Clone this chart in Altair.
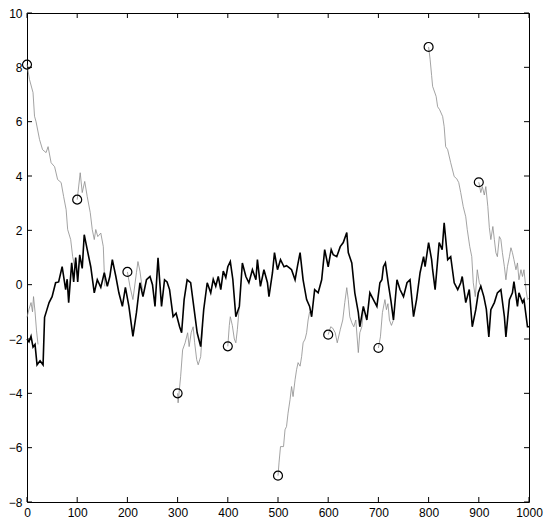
import altair as alt
import pandas as pd

# ---- black series ----
black_x = [0, 4, 8, 12, 16, 20, 26, 32, 35, 40, 44, 50, 57, 63, 70, 77, 80, 83, 89, 93,
           97, 101, 105, 110, 114, 120, 127, 134, 140, 147, 154, 160, 165, 170, 177, 183, 190, 196, 203, 211,
           218, 225, 231, 238, 245, 250, 255, 261, 268, 274, 279, 284, 291, 297, 304, 308, 313, 319, 326, 333,
           339, 346, 352, 359, 366, 371, 376, 381, 386, 391, 396, 400, 405, 410, 416, 423, 429, 436, 442, 449,
           456, 459, 465, 472, 479, 482, 489, 493, 499, 505, 512, 517, 524, 527, 534, 539, 544, 550, 557, 563,
           567, 573, 580, 587, 593, 600, 606, 610, 617, 624, 630, 637, 640, 647, 653, 660, 663, 670, 677, 683,
           690, 697, 703, 707, 710, 714, 720, 725, 730, 737, 743, 750, 757, 763, 770, 776, 783, 790, 793, 800,
           806, 808, 813, 821, 827, 831, 838, 844, 851, 858, 864, 867, 874, 881, 887, 894, 899, 904, 910, 915,
           920, 924, 931, 937, 944, 951, 954, 961, 967, 970, 977, 980, 987, 990, 997, 1000]
black_y = [-2.0, -2.1, -1.9, -2.3, -2.2, -2.95, -2.8, -2.95, -1.2, -0.9, -0.66, -0.44, 0.07, 0.1, 0.66, -0.18, 0.2, -0.66, 0.8, 0.1,
           1.0, 0.1, 1.1, 0.6, 1.84, 1.29, 0.66, -0.3, 0.18, -0.1, 0.44, -0.06, 0.3, 0.92, 0.3, -0.3, -0.8, -0.1, -0.8, -1.9,
           -1.03, 0.07, -0.44, 0.18, 0.3, 0.0, -0.8, 0.99, -0.8, 0.18, 0.1, -0.18, -1.18, -1.05, -1.55, -1.77, -0.55, 0.18, 0.07, -0.92,
           -1.77, -2.28, -0.92, 0.07, -0.3, 0.2, -0.06, 0.3, -0.18, 0.5, 0.26, 0.66, 0.85, 0.2, -1.18, -0.8, 0.8, 0.3, 0.07, 0.55,
           0.18, 0.92, -0.06, 0.55, 0.07, -0.44, 0.44, 1.18, 0.55, 0.92, 0.66, 0.7, 0.6, 0.55, 0.18, 0.7, 1.18, 0.18, -0.55, -0.8,
           -1.18, -0.18, -0.3, 0.18, 1.29, 0.66, 1.29, 1.1, 1.03, 1.4, 1.55, 1.92, 1.18, 0.8, -0.3, -1.03, -1.55, -0.8, -1.3, -0.3,
           -0.55, -0.8, 0.07, 0.18, 0.66, 0.8, 0.0, -0.6, -1.3, 0.18, -0.18, -0.44, 0.07, 0.18, -1.18, -0.55, 0.44, 1.03, 0.66, 1.55,
           0.92, 0.55, -0.18, 1.55, 1.29, 2.28, 0.92, 1.03, 0.07, -0.18, 0.07, 0.3, -0.66, -0.18, -1.55, -0.92, -0.3, -0.06, -0.44, -0.9,
           -1.92, -0.92, -0.66, -0.3, -0.18, -1.18, -1.92, -0.55, -0.3, 0.11, -0.8, -0.3, -0.66, -0.55, -1.55, -1.55]

# ---- gray segments ----
gz_x = [0, 4, 8, 11, 13, 16, 19, 22]
gz_y = [-1.2, -0.9, -0.66, -1.0, -0.44, -1.0, -1.7, -2.2]
g0_x = [0, 5, 12, 15, 18, 25, 31, 38, 42, 48, 55, 61, 68, 73, 78, 81, 87, 91, 95]
g0_y = [8.1, 7.55, 7.07, 6.2, 6.0, 5.34, 4.97, 4.86, 5.08, 4.49, 4.34, 3.87, 3.76, 3.24, 2.76, 2.03, 1.66, 1.03, 0.66]
g1_x = [100, 106, 110, 115, 120, 126, 130, 134, 137, 141, 147, 152, 155]
g1_y = [3.13, 4.12, 3.39, 3.8, 3.24, 2.65, 2.03, 1.66, 2.03, 1.77, 1.9, 1.4, -0.06]
g2_x = [200, 205, 211, 218, 221, 225, 230]
g2_y = [0.47, -0.06, -0.55, 0.44, 0.85, 0.5, -0.2]
g3_x = [300, 301, 306, 310, 315, 320, 323, 327, 331, 334, 338, 341, 346, 350]
g3_y = [-4.0, -4.35, -3.39, -2.4, -2.14, -1.77, -2.28, -1.77, -1.55, -2.14, -2.76, -2.95, -2.65, -1.5]
g4_x = [400, 403, 405, 409, 413, 416, 419, 423]
g4_y = [-2.27, -1.5, -1.18, -1.5, -2.0, -2.14, -1.66, -0.8]
g5_x = [500, 502, 505, 511, 514, 517, 520, 524, 527, 530, 534, 537, 540, 544, 547, 550, 554, 557, 560, 563]
g5_y = [-7.03, -6.56, -5.96, -5.96, -5.34, -5.22, -4.73, -4.23, -3.75, -4.12, -3.5, -3.13, -2.87, -3.0, -2.65, -2.14, -2.0, -1.77, -1.3, -1.0]
g6_x = [600, 605, 609, 614, 618, 624, 629, 633, 637, 640, 643, 647, 651, 655, 660, 663, 667, 670]
g6_y = [-1.84, -1.55, -1.6, -1.77, -2.14, -1.66, -1.3, -0.66, -0.11, -0.55, -1.18, -1.4, -1.55, -1.3, -2.5, -1.77, -1.55, -0.9]
g7_x = [700, 704, 708, 713, 716, 719, 722, 726, 730]
g7_y = [-2.33, -1.92, -1.03, -0.55, -0.92, -0.7, -1.3, -1.5, -1.3]
g8_x = [800, 803, 806, 808, 815, 818, 822, 828, 831, 834, 838, 844, 851, 856, 860, 864, 869, 874, 877, 882, 886, 889, 893, 897, 901, 905]
g8_y = [8.75, 8.3, 7.7, 7.3, 6.93, 6.55, 6.44, 6.19, 5.82, 5.08, 4.97, 4.49, 3.98, 3.9, 3.76, 3.39, 2.87, 2.5, 2.03, 1.4, 1.03, 0.07, -0.44, 0.55, 0.07, -0.1]
g9_x = [900, 904, 907, 911, 914, 918, 921, 924, 928, 931, 934, 937, 941, 944, 947, 951, 954, 957, 961, 964,
        967, 970, 974, 977, 980, 984, 987, 990, 994, 997, 1000]
g9_y = [3.77, 3.39, 3.61, 3.3, 3.61, 2.87, 2.1, 1.66, 2.14, 1.66, 1.18, 1.03, 1.77, 1.66, 1.18, 0.66, 0.18, 0.66, 1.03, 1.36,
        1.18, 0.92, 0.55, 0.8, 0.18, 0.55, 0.3, 0.55, -0.18, -0.55, -0.5]

# ---- circles ----
circle_x = [0, 100, 200, 300, 400, 500, 600, 700, 800, 900]
circle_y = [8.1, 3.13, 0.47, -4.0, -2.27, -7.03, -1.84, -2.33, 8.75, 3.77]

# ---- axis ticks ----
x_ticks = [0, 100, 200, 300, 400, 500, 600, 700, 800, 900, 1000]
y_ticks = [-8, -6, -4, -2, 0, 2, 4, 6, 8, 10]

W, H = 502, 489
FONT = "Liberation Sans"

gray_rows = []
for name, xs, ys in [("z", gz_x, gz_y), ("0", g0_x, g0_y), ("1", g1_x, g1_y), ("2", g2_x, g2_y),
                     ("3", g3_x, g3_y), ("4", g4_x, g4_y), ("5", g5_x, g5_y), ("6", g6_x, g6_y),
                     ("7", g7_x, g7_y), ("8", g8_x, g8_y), ("9", g9_x, g9_y)]:
    for i, (a, b) in enumerate(zip(xs, ys)):
        gray_rows.append({"x": a, "y": b, "seg": name, "i": i})
gray_df = pd.DataFrame(gray_rows)
black_df = pd.DataFrame({"x": black_x, "y": black_y, "i": list(range(len(black_x)))})
circ_df = pd.DataFrame({"x": circle_x, "y": circle_y})
xt_df = pd.DataFrame({"x": x_ticks})
yt_df = pd.DataFrame({"y": y_ticks})

xs = alt.Scale(domain=[0, 1000], nice=False, zero=False)
ys = alt.Scale(domain=[-8, 10], nice=False, zero=False)
xax = alt.Axis(values=x_ticks, title=None, grid=False, ticks=False, tickSize=0, domain=False,
               labelFont=FONT, labelFontSize=12, labelColor="black", labelPadding=5, labelFlush=False,
               labelOverlap=False, format="d")
yax = alt.Axis(values=y_ticks, title=None, grid=False, ticks=False, tickSize=0, domain=False,
               labelFont=FONT, labelFontSize=12, labelColor="black", labelPadding=5, labelFlush=False,
               labelOverlap=False, format="d")
X = alt.X("x:Q", scale=xs, axis=xax)
Y = alt.Y("y:Q", scale=ys, axis=yax)

gray = alt.Chart(gray_df).mark_line(color="#8c8c8c", strokeWidth=0.8).encode(
    x=X, y=Y, detail="seg:N", order="i:Q")
black = alt.Chart(black_df).mark_line(color="black", strokeWidth=1.6).encode(
    x=X, y=Y, order="i:Q")
circ = alt.Chart(circ_df).mark_point(shape="circle", filled=False, size=80, color="black",
                                      strokeWidth=1.2, opacity=1).encode(x=X, y=Y)

tb = alt.Chart(xt_df).mark_rule(color="black", strokeWidth=1).encode(
    x=X, y=alt.value(H), y2=alt.value(H - 5))
tt = alt.Chart(xt_df).mark_rule(color="black", strokeWidth=1).encode(
    x=X, y=alt.value(0), y2=alt.value(5))
tl = alt.Chart(yt_df).mark_rule(color="black", strokeWidth=1).encode(
    y=Y, x=alt.value(0), x2=alt.value(5))
tr = alt.Chart(yt_df).mark_rule(color="black", strokeWidth=1).encode(
    y=Y, x=alt.value(W), x2=alt.value(W - 5))

chart = alt.layer(gray, black, circ, tb, tt, tl, tr).properties(
    width=W, height=H,
    autosize=alt.AutoSizeParams(type="none"),
    padding={"left": 19, "top": 5, "right": 15, "bottom": 22},
    background="white",
).configure_view(stroke="black", strokeWidth=1)

chart.save("out.html", embed_options={"renderer": "svg", "actions": False})
